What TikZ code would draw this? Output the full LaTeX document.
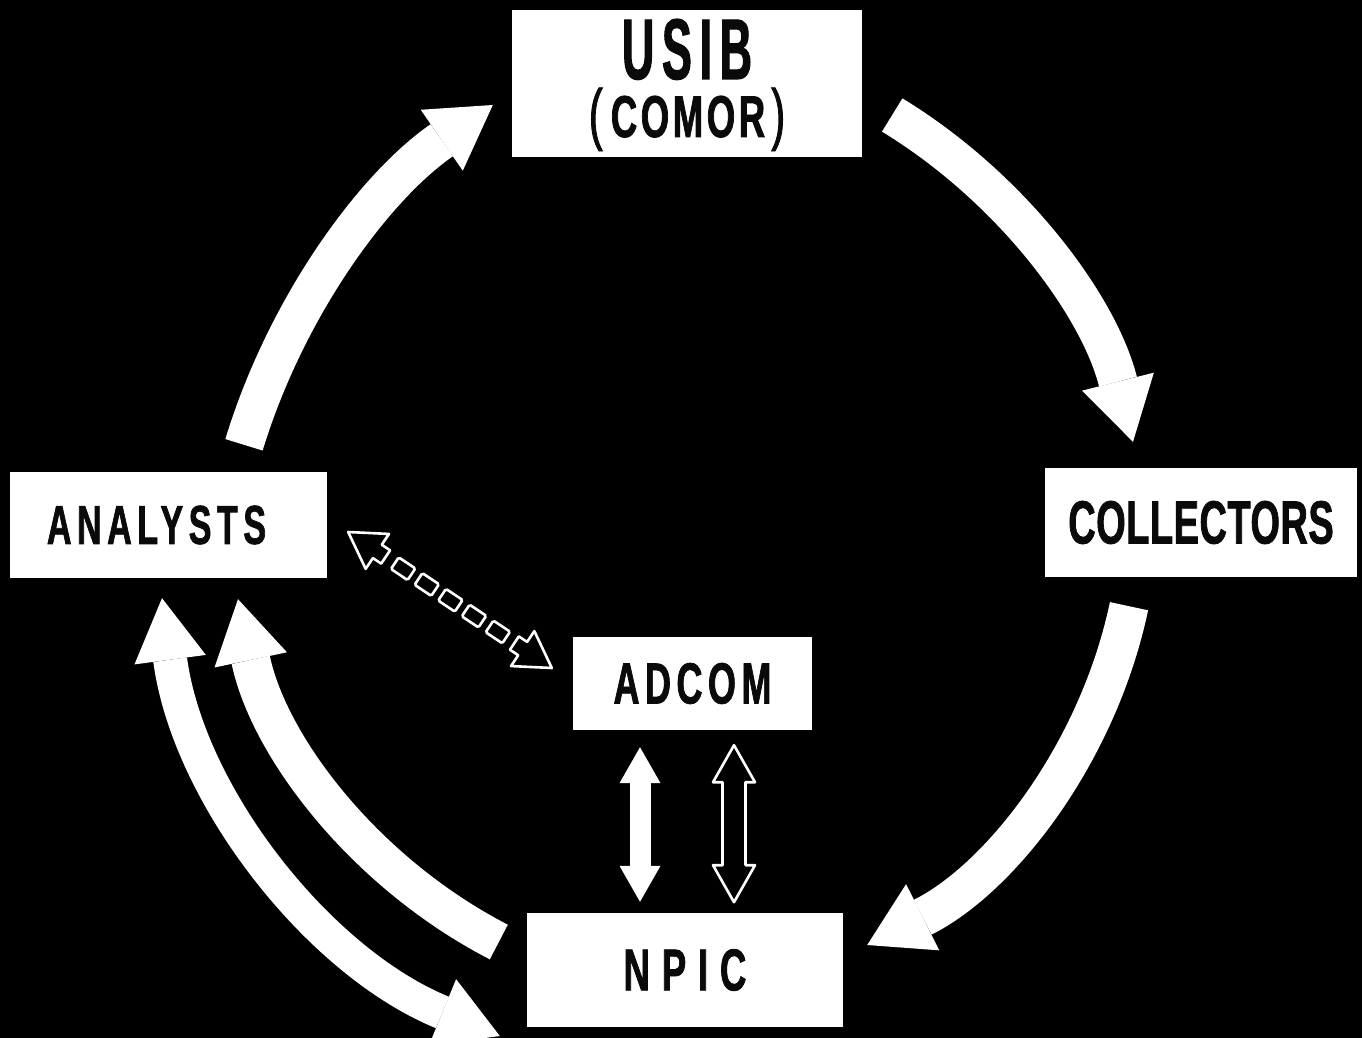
\documentclass[tikz,border=0pt]{standalone}
\usepackage{fontspec}
\usetikzlibrary{arrows.meta,calc}
\newfontfamily\boxfont[FakeStretch=0.62,FakeBold=1.2]{Liberation Sans}
\newfontfamily\titlefont[FakeStretch=0.52,FakeBold=1.2]{Liberation Sans}
\definecolor{Board}{HTML}{000000}
\definecolor{Card}{HTML}{FFFFFF}
\definecolor{Ink}{HTML}{0A0A0A}
\tikzset{
  cycle flow/.style={-{Triangle[length=62pt,width=74pt,line width=0pt]}, draw=Card, line width=39pt},
  return flow/.style={{Triangle[length=62pt,width=72pt,line width=0pt]}-{Triangle[length=62pt,width=72pt,line width=0pt]},
    draw=Card, line width=34pt},
  solid link/.style={{Triangle[length=36pt,width=41pt,line width=0pt]}-{Triangle[length=36pt,width=41pt,line width=0pt]},
    draw=Card, line width=21pt},
  hollow link/.style={draw=Card, fill=Board, line width=2.6pt, line join=round},
  dash block/.style={draw=Card, fill=Board, line width=2.6pt, rounded corners=1.5pt,
    minimum width=20pt, minimum height=14pt, inner sep=0pt},
  card/.style={fill=Card, inner sep=0pt, text=Ink},
  card label/.style 2 args={font=\boxfont\bfseries\fontsize{#1}{#1}\selectfont\addfontfeature{LetterSpace=#2}},
  title line/.style={anchor=base, text=Ink, inner sep=0pt},
}

\begin{document}
\begin{tikzpicture}[x=1pt, y=-1pt]
  \useasboundingbox (0,0) rectangle (1362,1038);
  \fill[Board] (0,0) rectangle (1362,1038);

  % Cards around the cycle, ADCOM in the middle.
  \node[card, minimum width=350pt, minimum height=147pt] (usib) at (687,83.5) {};
  \node[card, minimum width=317pt, minimum height=106pt, card label={55}{10}] (analysts) at (168.5,525) {ANALYSTS\hspace*{24pt}};
  \node[card, minimum width=312pt, minimum height=109pt, card label={61}{1}] (collectors) at (1201,522.5) {COLLECTORS};
  \node[card, minimum width=239pt, minimum height=93pt, card label={58}{9.5}] (adcom) at (692.5,683.5) {ADCOM};
  \node[card, minimum width=316pt, minimum height=114pt, card label={59}{20}] (npic) at (685,970) {NPIC};

  % Two-line title of the top card.
  \node[title line, font=\titlefont\bfseries\fontsize{86}{86}\selectfont\addfontfeature{LetterSpace=9}] (usib name)
    at ([yshift=4.5pt]usib.center) {USIB};
  \node[title line, card label={59}{6}] (comor name)
    at ([yshift=-53.5pt]usib.center) {{\fontsize{68}{68}\selectfont\mdseries(}\hspace{8pt}COMOR\hspace{6pt}{\fontsize{68}{68}\selectfont\mdseries)}};

  % Main tasking cycle.
  \draw[cycle flow] ([shift={(75.5pt,27pt)}]analysts.north)
    .. controls (286,307) and (374,187) .. ([shift={(-19pt,-21.5pt)}]usib.west);
  \draw[cycle flow] ([shift={(30pt,-31.5pt)}]usib.east)
    .. controls (1012,188) and (1099,306) .. ([shift={(-68pt,26pt)}]collectors.north);
  \draw[cycle flow] ([shift={(-72pt,-29pt)}]collectors.south)
    .. controls (1098,753) and (1001,878) .. ([shift={(24pt,25pt)}]npic.east);
  \draw[cycle flow] ([shift={(-28pt,28pt)}]npic.west)
    .. controls (365,873) and (269,747) .. ([shift={(69.5pt,-21pt)}]analysts.south);
  \draw[return flow] ([shift={(-6.5pt,-20pt)}]analysts.south)
    .. controls (188,794) and (317,961) .. ([shift={(-27pt,-66pt)}]npic.west);

  % ADCOM to NPIC exchange.
  \draw[solid link] ([shift={(-52.5pt,-17pt)}]adcom.south) -- ([shift={(-45pt,11pt)}]npic.north);
  \coordinate (hollow tip) at ([shift={(41.5pt,-15pt)}]adcom.south);
  \draw[hollow link] (hollow tip) -- ++(21,37) -- ++(-9.5,0) -- ++(0,83) -- ++(9.5,0)
    -- ++(-21,37) -- ++(-21,-37) -- ++(9.5,0) -- ++(0,-83) -- ++(-9.5,0) -- cycle;

  % Broken link between ANALYSTS and ADCOM.
  \coordinate (link a) at ([shift={(21pt,-7pt)}]analysts.east);
  \coordinate (link b) at ([shift={(-21pt,15.5pt)}]adcom.west);
  \foreach \tip/\turn in {link a/-33.7, link b/146.3}
    \draw[hollow link, shift={(\tip)}, rotate=\turn]
      (0,0) -- (35,21) -- (35,8) -- (45,8) -- (45,-8) -- (35,-8) -- (35,-21) -- cycle;
  \foreach \t [count=\i] in {0.27,0.386,0.502,0.618,0.735}
    \node[dash block, rotate=-33.7] (block \i) at ($(link a)!\t!(link b)$) {};
\end{tikzpicture}
\end{document}
